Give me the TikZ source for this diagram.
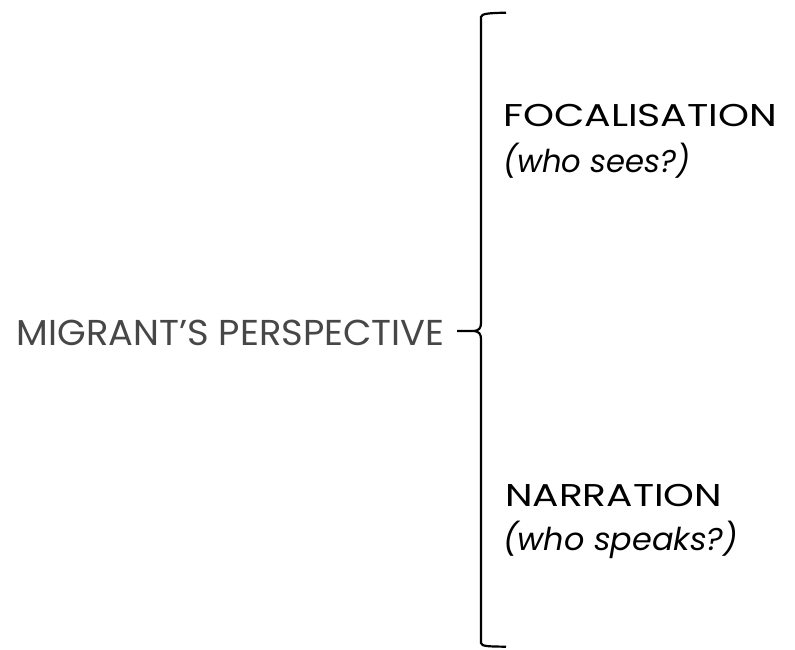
\documentclass[tikz,border=0pt]{standalone}
\usepackage{graphicx}
\usepackage{fontspec}
\setmainfont{Poppins}
% set a line at a given width, keeping its natural height
\newcommand{\widthto}[2]{\resizebox{#1}{\height}{#2}}
\begin{document}
\begin{tikzpicture}[x=1pt,y=1pt,
  label/.style={inner sep=0pt, font=\fontsize{31.5}{36}\selectfont},
  sub/.style={label, font=\fontsize{31.5}{36}\selectfont\itshape},
  root/.style={inner sep=0pt, text=black!72, font=\fontsize{36}{40}\selectfont},
  brace/.style={line width=2.2pt, line cap=butt, line join=miter}]
\useasboundingbox (0,0) rectangle (795,649);
% left label
\node[root, anchor=base east] (mig) at (445,304) {\widthto{428pt}{MIGRANT’S PERSPECTIVE}};
% right labels
\node[label, anchor=base west] (foc) at (503,522) {\widthto{274pt}{FOCALISATION}};
\node[sub, anchor=base west] (focq) at (503,476) {\widthto{187pt}{(who sees?)}};
\node[label, anchor=base west] (nar) at (505,143) {\widthto{217pt}{NARRATION}};
\node[sub, anchor=base west] (narq) at (503,99) {\widthto{235pt}{(who speaks?)}};
% curly bracket
\coordinate (tipb) at (457,318);
\coordinate (topend) at (506,636.3);
\coordinate (botend) at (506,2.3);
\draw[brace] (topend) .. controls (490,636) and (481,635.5) .. (481,632)
  -- (481,326) .. controls (481,321) and (479,318.5) .. (474,318) -- (tipb)
  -- (474,318) .. controls (479,317.5) and (481,315) .. (481,310)
  -- (481,6) .. controls (481,2.5) and (490,2.5) .. (botend);
\end{tikzpicture}
\end{document}
